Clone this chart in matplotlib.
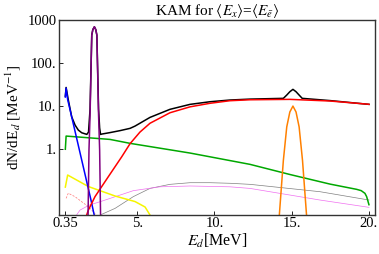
import numpy as np
import matplotlib.pyplot as plt

plt.rcParams['font.family'] = 'serif'
plt.rcParams['font.serif'] = ['Liberation Serif', 'DejaVu Serif']
plt.rcParams['mathtext.fontset'] = 'stix'

# values (x in MeV, y in MeV^-1)
total_x = [0.35, 0.40, 0.54, 0.76, 0.98, 1.19, 1.41, 1.74, 1.85, 1.95, 2.06, 2.13, 2.23,
           2.32, 2.39, 2.50, 2.57, 2.63, 2.71, 3.24, 3.89, 4.54, 4.86, 5.83, 7.12, 8.42,
           9.71, 11.0, 12.3, 14.46, 14.68, 14.88, 15.08, 15.28, 15.48, 15.68, 17.48, 20.0]
total_y = [17.0, 27.0, 14.0, 5.65, 3.63, 2.78, 2.41, 2.21, 2.5, 8.5, 440, 590, 685,
           590, 440, 8.5, 3.1, 2.2, 2.25, 2.43, 2.7, 3.05, 3.44, 5.47, 8.4, 10.95,
           12.6, 13.8, 14.5, 15.1, 18.0, 21.5, 24.4, 21.5, 18.0, 15.1, 13.4, 10.95]

blue_x = [0.35, 0.40, 0.50, 1.0, 1.5, 2.0, 2.3]
blue_y = [16.2, 26.1, 14.2, 2.41, 0.408, 0.069, 0.022]

purple_x = [1.80, 1.82, 1.88, 1.95, 2.06, 2.13, 2.23, 2.32, 2.39, 2.50, 2.57, 2.63, 2.66]
purple_y = [0.01, 0.028, 0.96, 6.2, 440, 590, 685, 590, 440, 6.2, 0.96, 0.028, 0.01]

red_x = [1.68, 1.70, 1.84, 2.27, 3.13, 4.0, 4.54, 5.18, 5.83, 7.12, 8.42, 9.71, 11.0,
         12.3, 14.89, 17.48, 20.0]
red_y = [0.01, 0.028, 0.039, 0.08, 0.231, 0.67, 1.35, 2.5, 4.0, 7.0, 9.6, 11.6, 13.3,
         14.0, 14.3, 13.1, 11.0]

orange_x = [14.1, 14.2, 14.46, 14.68, 14.88, 15.08, 15.28, 15.48, 15.70, 15.96, 16.05]
orange_y = [0.01, 0.03, 0.55, 3.3, 7.3, 10.0, 7.3, 3.3, 0.55, 0.03, 0.01]

green_x = [0.35, 0.40, 3.24, 4.54, 8.42, 12.3, 14.89, 17.48, 19.2, 19.5, 19.74, 19.85, 20.0]
green_y = [1.0, 2.02, 1.69, 1.37, 0.817, 0.447, 0.26, 0.156, 0.118, 0.11, 0.0953, 0.08, 0.052]

yellow_x = [0.35, 0.50, 1.84, 3.57, 4.86, 5.51, 5.83, 5.95]
yellow_y = [0.133, 0.253, 0.137, 0.0826, 0.0615, 0.046, 0.03, 0.01]

dashed_x = [0.40, 0.54, 0.98, 1.84, 2.26, 2.40]
dashed_y = [0.073, 0.096, 0.0795, 0.0467, 0.0328, 0.02]

magenta_x = [1.0, 1.09, 1.3, 1.9, 2.6, 4.75, 6.48, 8.42, 11.0, 12.3, 16.83, 20.0]
magenta_y = [0.02, 0.0305, 0.039, 0.051, 0.061, 0.11, 0.135, 0.141, 0.135, 0.124, 0.0667, 0.0452]

gray_x = [2.55, 2.65, 3.57, 4.75, 5.83, 7.12, 8.42, 9.71, 11.0, 12.3, 16.83, 20.0]
gray_y = [0.02, 0.0305, 0.0428, 0.08, 0.124, 0.154, 0.168, 0.168, 0.163, 0.154, 0.104, 0.0667]

xticks = [0.35, 5, 10, 15, 20]
xticklabels = ['0.35', '5.', '10.', '15.', '20.']
yticks = [1, 10, 100, 1000]
yticklabels = ['1.', '10.', '100.', '1000']


def main():
    fig = plt.figure(figsize=(3.79, 2.54), dpi=100)
    ax = fig.add_axes([0.1565, 0.1547, 0.9894 - 0.1565, 0.9224 - 0.1547])

    ax.plot(total_x, total_y, color='black', lw=1.1)
    ax.plot(gray_x, gray_y, color='#808080', lw=0.5)
    ax.plot(magenta_x, magenta_y, color='#f070f0', lw=0.5)
    ax.plot(dashed_x, dashed_y, color='#ff7070', lw=0.5, dashes=(3, 2))
    ax.plot(yellow_x, yellow_y, color='#f5f500', lw=1.1)
    ax.plot(green_x, green_y, color='#00a800', lw=1.1)
    ax.plot(blue_x, blue_y, color='#0000ff', lw=1.1)
    ax.plot(red_x, red_y, color='#ff0000', lw=1.1)
    ax.plot(purple_x, purple_y, color='#800080', lw=1.1)
    ax.plot(orange_x, orange_y, color='#ff8000', lw=1.1)

    ax.set_yscale('log')
    ax.set_xlim(-0.04, 20.39)
    ax.set_ylim(0.0305, 1000)
    ax.set_xticks(xticks, xticklabels)
    ax.set_yticks(yticks, yticklabels)
    ax.minorticks_off()
    ax.tick_params(direction='in', length=3, width=0.6, labelsize=10.5, pad=2)
    for s in ax.spines.values():
        s.set_linewidth(1.0)
        s.set_color('#333333')

    ax.set_xlabel(r'$E_d$[MeV]', fontsize=11.5, labelpad=1)
    ax.set_ylabel(r'dN/dE$_d$ [MeV$^{-1}$]', fontsize=11, labelpad=3)
    ax.set_title(r'KAM for $\langle E_x\rangle$=$\langle E_{\bar{e}}\rangle$', fontsize=11, pad=3)

    fig.savefig('out.png', dpi=100)


if __name__ == '__main__':
    main()
